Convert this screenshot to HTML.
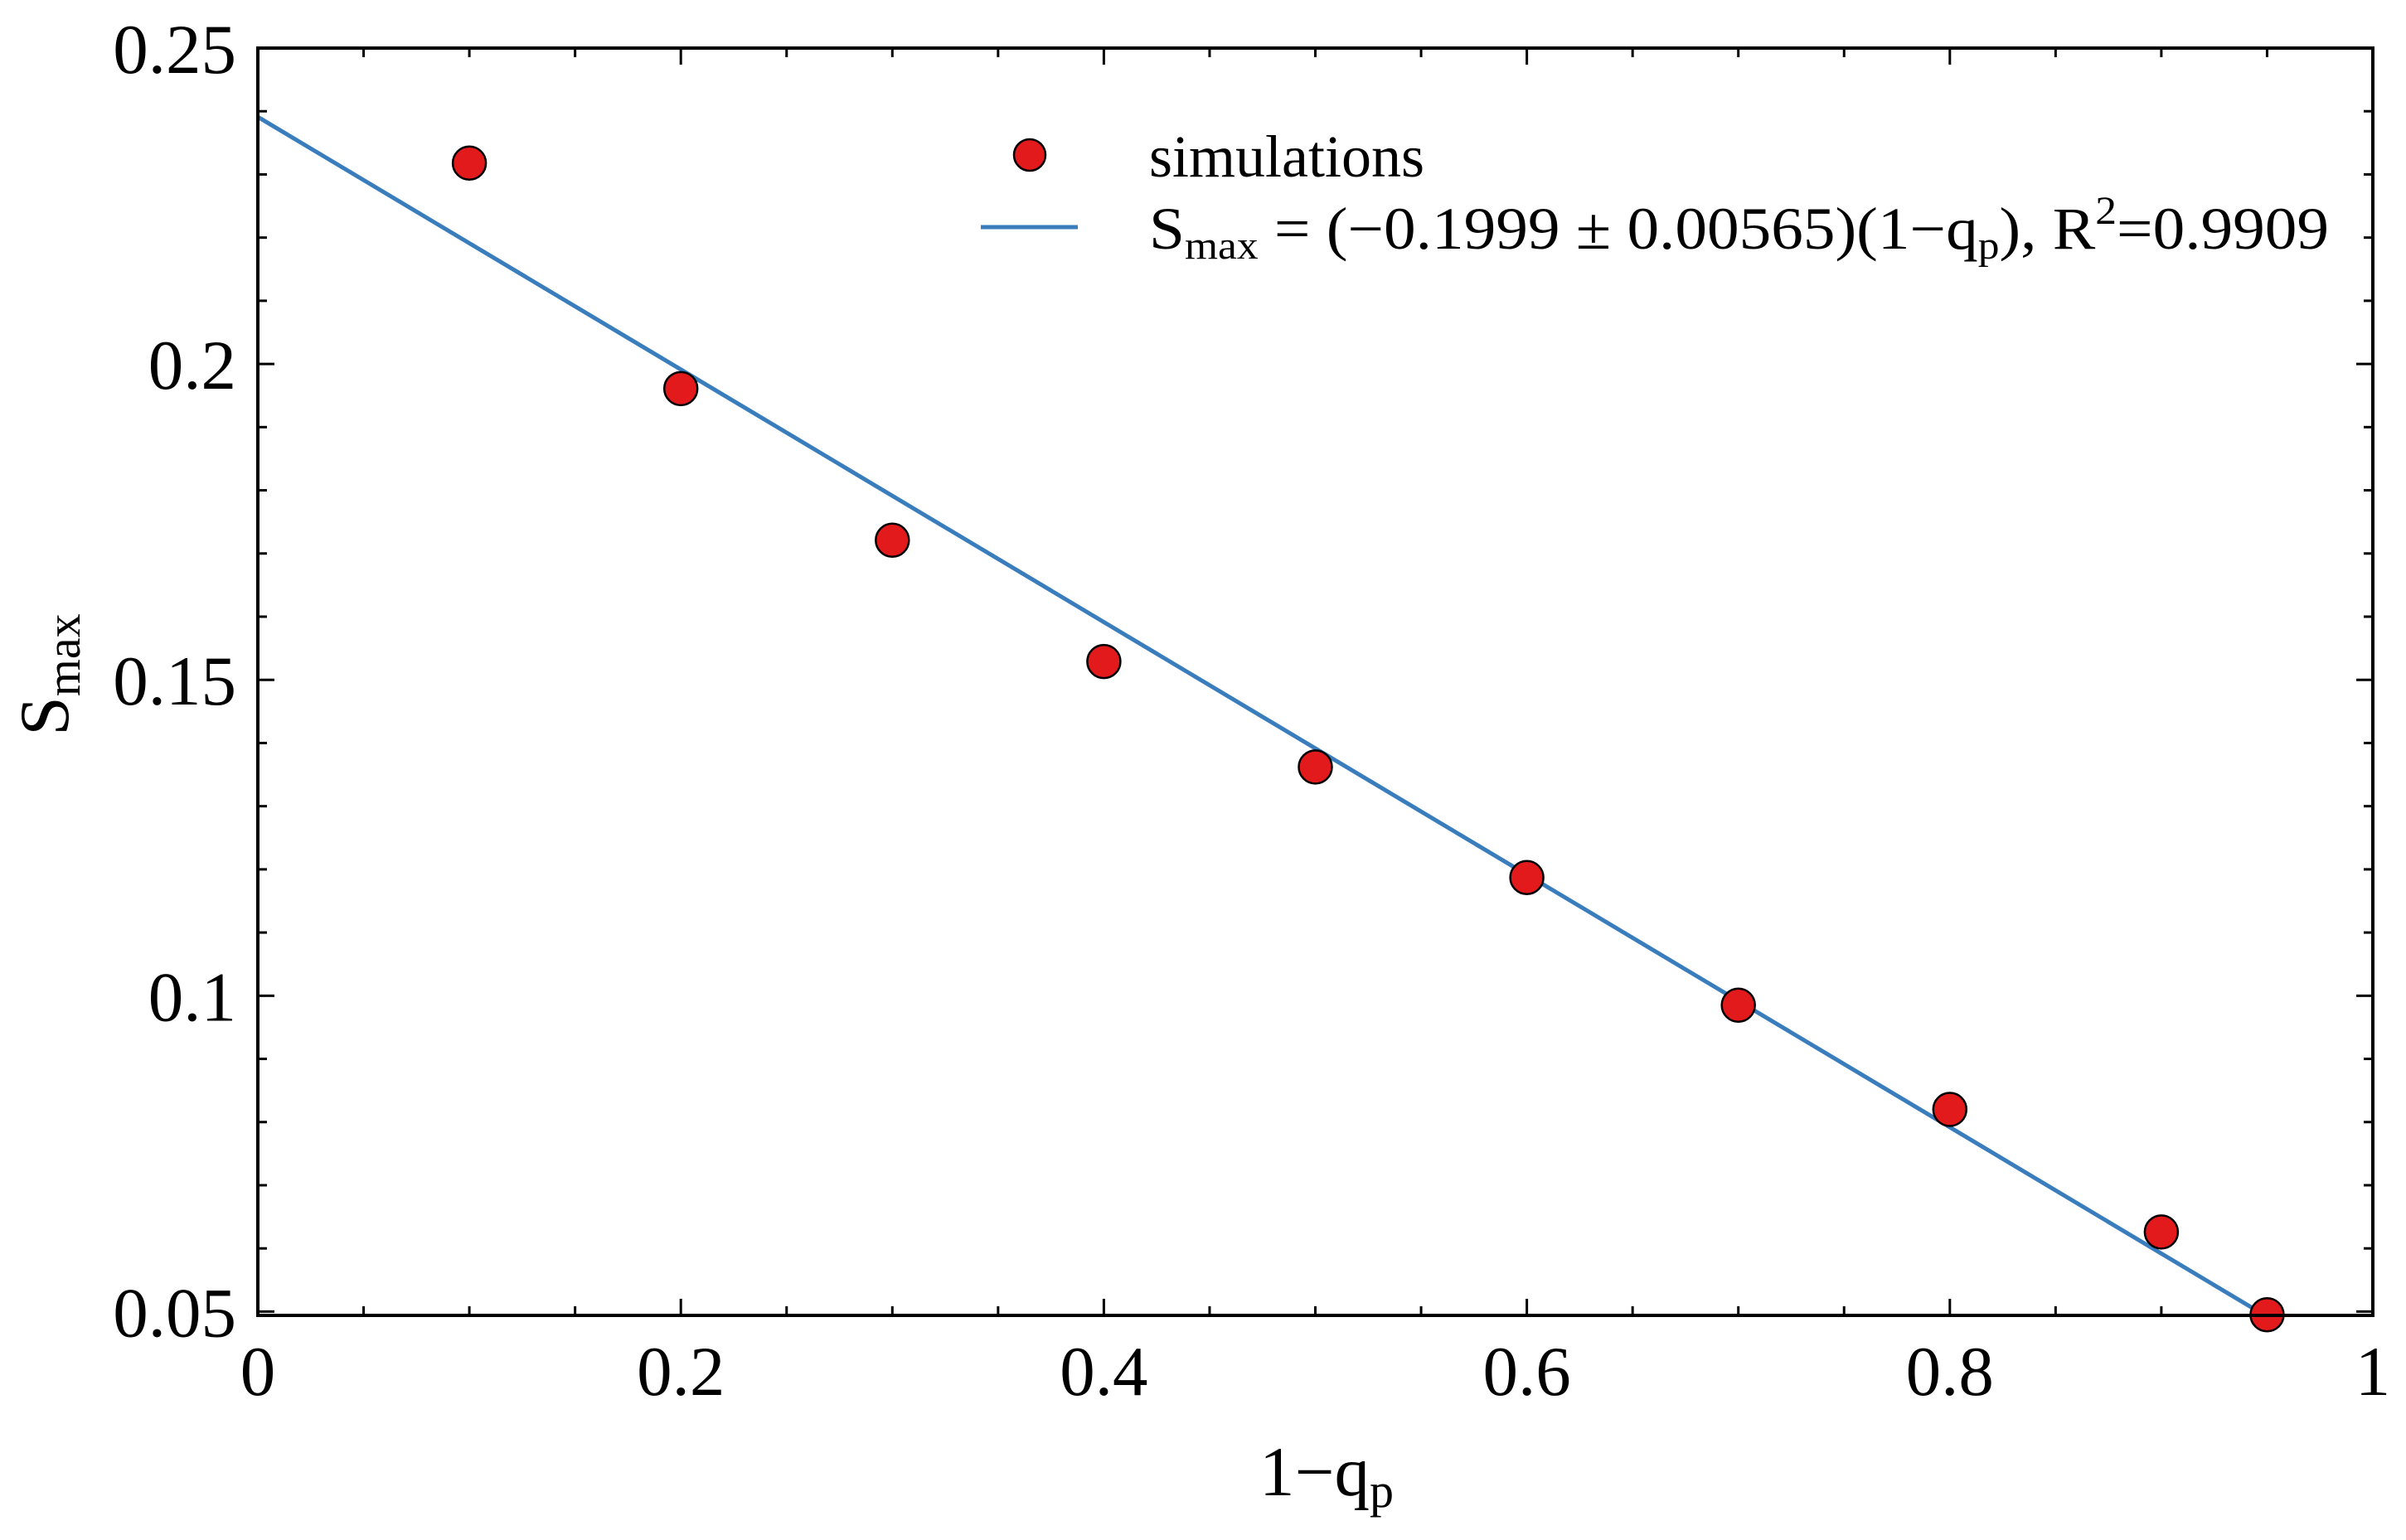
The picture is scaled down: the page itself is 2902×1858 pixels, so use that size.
<!DOCTYPE html>
<html><head><meta charset="utf-8"><style>
html,body{margin:0;padding:0;background:#fff;}
svg{display:block;font-family:"Liberation Serif",serif;}
</style></head><body>
<svg id="chart" width="2902" height="1858" viewBox="0 0 2902 1858" xmlns="http://www.w3.org/2000/svg">
<g id="ticks"></g>
<g id="labels"></g>
<g id="series"></g>
<rect x="311" y="58" width="2551" height="1529" fill="none" stroke="#000" stroke-width="4"/>
<text x="1600" y="1804" font-size="85" text-anchor="middle">1−q<tspan font-size="58" dy="14">p</tspan></text>
<text transform="translate(82,814) rotate(-90)" font-size="85" text-anchor="middle">S<tspan font-size="58" dy="14">max</tspan></text>
<g>
  <circle cx="1242" cy="187" r="19" fill="#e31a1c" stroke="#000" stroke-width="2.5"/>
  <text x="1386" y="213" font-size="72">simulations</text>
  <line x1="1183" y1="274" x2="1300" y2="274" stroke="#3a7dbd" stroke-width="5"/>
  <text x="1386" y="300" font-size="72" textLength="1423" lengthAdjust="spacingAndGlyphs">S<tspan font-size="48" dy="12">max</tspan><tspan dy="-12"> = (−0.1999 ± 0.00565)(1−q</tspan><tspan font-size="48" dy="12">p</tspan><tspan dy="-12">), R</tspan><tspan font-size="48" dy="-30">2</tspan><tspan dy="30">=0.9909</tspan></text>
</g>
</svg>
<script>
const xVals = [0.1,0.2,0.3,0.4,0.5,0.6,0.7,0.8,0.9,0.95];
const yVals = [0.2318,0.1961,0.1721,0.1529,0.1362,0.1187,0.0985,0.0820,0.0626,0.0495];
const fitIntercept = 0.2391;
const fitSlope = -0.1999;
const xTickLabels = ["0","0.2","0.4","0.6","0.8","1"];
const yTickLabels = ["0.05","0.1","0.15","0.2","0.25"];

const X0=311,X1=2862,Y0=1587,Y1=58;
const xMin=0,xMax=1,yMin=0.0494,yMax=0.25;
function sx(v){return X0+(v-xMin)/(xMax-xMin)*(X1-X0);}
function sy(v){return Y0-(v-yMin)/(yMax-yMin)*(Y0-Y1);}
const NS="http://www.w3.org/2000/svg";
function mk(tag,attrs,parent){const e=document.createElementNS(NS,tag);for(const k in attrs)e.setAttribute(k,attrs[k]);parent.appendChild(e);return e;}
const ticks=document.getElementById('ticks'),labels=document.getElementById('labels'),series=document.getElementById('series');

for(let i=0;i<=20;i++){
  const v=i*0.05,x=sx(v),major=(i%4===0),L=major?20:11;
  const b=mk('line',{x1:x,y1:Y0,x2:x,y2:Y0-L,stroke:'#000','stroke-width':3},ticks);
  
  
  const t=mk('line',{x1:x,y1:Y1,x2:x,y2:Y1+L,stroke:'#000','stroke-width':3},ticks);
  
  
}
for(let i=5;i<=25;i++){
  const v=i*0.01,y=sy(v),major=(i%5===0),L=major?20:11;
  const l=mk('line',{x1:X0,y1:y,x2:X0+L,y2:y,stroke:'#000','stroke-width':3},ticks);
  
  
  const r=mk('line',{x1:X1,y1:y,x2:X1-L,y2:y,stroke:'#000','stroke-width':3},ticks);
  
  
}
xTickLabels.forEach(s=>{
  const t=mk('text',{x:sx(parseFloat(s)),y:1683,'font-size':85,'text-anchor':'middle'},labels);
  t.textContent=s;
  
  
});
yTickLabels.forEach(s=>{
  const t=mk('text',{x:285,y:sy(parseFloat(s))+30,'font-size':85,'text-anchor':'end'},labels);
  t.textContent=s;
  
  
});
const xEnd=(yMin-fitIntercept)/fitSlope;
const fl=mk('line',{x1:sx(0),y1:sy(fitIntercept),x2:sx(xEnd),y2:sy(yMin),stroke:'#3a7dbd','stroke-width':5},series);


xVals.forEach((v,i)=>{
  const c=mk('circle',{cx:sx(v),cy:sy(yVals[i]),r:20,fill:'#e31a1c',stroke:'#000','stroke-width':2.5},series);
  
  
});
</script>
</body></html>
